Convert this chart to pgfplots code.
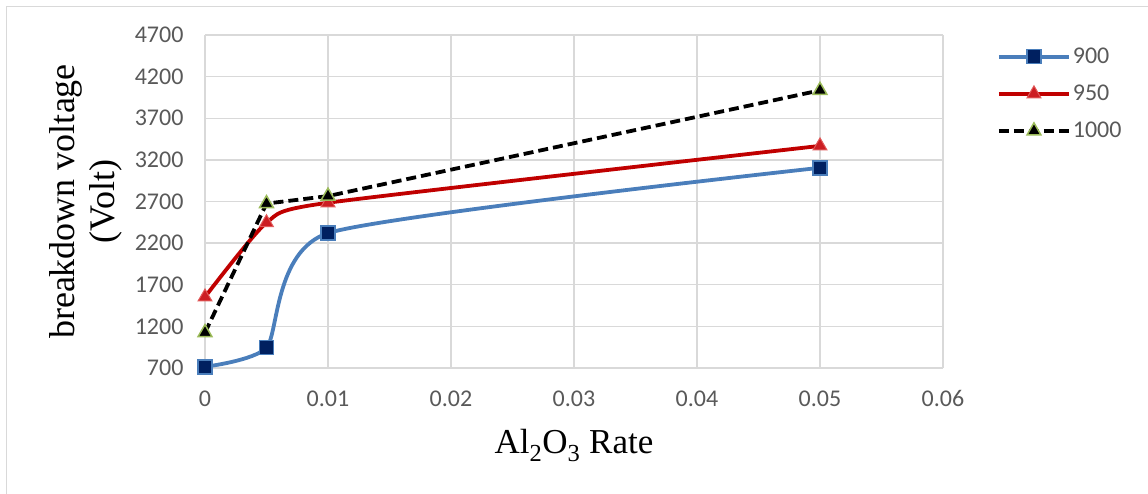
\documentclass[border=0pt]{standalone}
\usepackage{pgfplots}
\pgfplotsset{compat=1.18}
\usepackage{fontspec}
\setmainfont{Liberation Serif}
\newfontfamily\calibri{Carlito}
\definecolor{gridc}{RGB}{217,217,217}
\definecolor{tickc}{RGB}{89,89,89}
\definecolor{blueL}{RGB}{74,126,187}
\definecolor{blueF}{RGB}{0,32,96}
\definecolor{redL}{RGB}{192,0,0}
\definecolor{redF}{RGB}{204,30,35}
\definecolor{redD}{RGB}{225,90,90}
\definecolor{greenD}{RGB}{155,187,89}
\begin{document}
\begin{tikzpicture}[x=1pt,y=1pt]
\useasboundingbox (0,0) rectangle (1148,493);
\draw[gridc, line width=1.5pt] (6.5,-10) -- (6.5,486.5) -- (1160,486.5);
\begin{axis}[
  at={(205pt,125pt)}, anchor=south west,
  scale only axis, width=738pt, height=333pt,
  xmin=0, xmax=0.06, ymin=700, ymax=4700,
  scaled x ticks=false, scaled y ticks=false,
  xtick={0,0.01,0.02,0.03,0.04,0.05,0.06},
  xticklabels={0,0.01,0.02,0.03,0.04,0.05,0.06},
  ytick={700,1200,1700,2200,2700,3200,3700,4200,4700},
  yticklabels={700,1200,1700,2200,2700,3200,3700,4200,4700},
  grid=major, major grid style={gridc, line width=1.4pt},
  axis line style={draw=none},
  major tick length=0pt,
  tick label style={font=\calibri\fontsize{24}{27}\selectfont, text=tickc},
  xticklabel style={anchor=north, yshift=-19pt},
  yticklabel style={anchor=east, xshift=-18pt},
  /pgf/number format/assume math mode=true,
  xlabel={Al\textsubscript{2}O\textsubscript{3} Rate},
  xlabel style={font=\fontsize{35}{40}\selectfont, at={(axis description cs:0.5,-0.258)}, anchor=base},
  ylabel={breakdown voltage\\(Volt)},
  ylabel style={font=\fontsize{36}{40}\selectfont, align=center, at={(axis description cs:-0.161,0.5)}, anchor=center, rotate=0},
  legend style={at={(axis description cs:1.073,0.967)}, anchor=north west, draw=none, fill=none,
     font=\calibri\fontsize{24}{27}\selectfont, text=tickc, row sep=16pt, inner sep=0pt},
  legend cell align=left,
  legend image code/.code={\draw[mark repeat=2,mark phase=2,#1] plot coordinates {(0pt,0pt) (35pt,0pt) (70pt,0pt)};},
]
\addplot[blueL, line width=3.8pt, smooth, tension=0.35, mark=square*, mark size=7pt,
  mark options={solid, fill=blueF, draw=blueL, line width=1.5pt}]
  coordinates {(0,715) (0.005,945) (0.01,2320) (0.05,3105)};
\addlegendentry{900}
\addplot[redL, line width=3.8pt, smooth, tension=0.35, mark=triangle*, mark size=8pt,
  mark options={solid, fill=redF, draw=redD, line width=1pt}]
  coordinates {(0,1553) (0.005,2445) (0.01,2685) (0.05,3368)};
\addlegendentry{950}
\addplot[black, line width=3.8pt, dash pattern=on 10pt off 5pt, mark=triangle*, mark size=8pt,
  mark options={solid, fill=black, draw=greenD, line width=1.5pt}]
  coordinates {(0,1125) (0.005,2675) (0.01,2765) (0.05,4035)};
\addlegendentry{1000}
\end{axis}
\end{tikzpicture}
\end{document}
